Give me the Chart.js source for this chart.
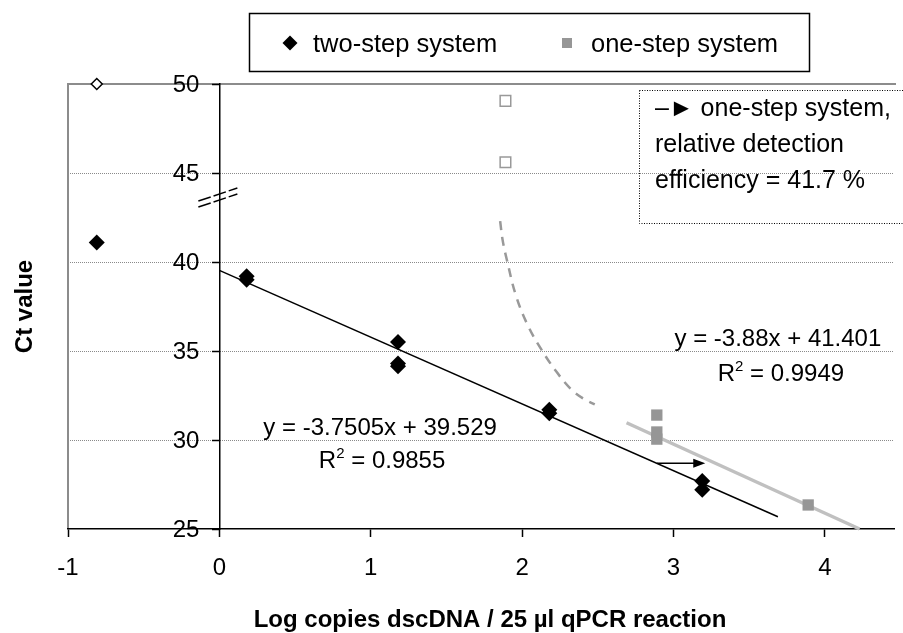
<!DOCTYPE html>
<html><head><meta charset="utf-8">
<script src="https://cdn.jsdelivr.net/npm/chart.js@4"></script>
<style>html,body{margin:0;padding:0;background:#fff}#wrap{width:903px;height:633px;position:relative}</style>
</head><body><div id="wrap"><canvas id="c" width="903" height="633"></canvas></div>
<script>
const FONT = '"Liberation Sans", Arial, Helvetica, sans-serif';

// ---- data ----
const xTickValues = [-1, 0, 1, 2, 3, 4];
const yTickValues = [25, 30, 35, 40, 45, 50];
const seriesLabels = ['two-step system', 'one-step system'];
const twoStepX = [-0.81, 0.18, 0.18, 1.18, 1.18, 1.18, 2.18, 2.18, 3.19, 3.19];
const twoStepY = [41.1, 39.2, 39.0, 35.5, 34.3, 34.15, 31.7, 31.5, 27.7, 27.2];
const twoStepOutX = [-0.81];
const twoStepOutY = [50];
const oneStepX = [2.89, 2.89, 2.89, 3.89];
const oneStepY = [31.4, 30.45, 30.05, 26.35];
const oneStepOutX = [1.89, 1.89];
const oneStepOutY = [49.05, 45.6];
const twoStepFitX = [0, 3.69];
const twoStepFitY = [39.53, 25.69];
const oneStepFitX = [2.69, 4.23];
const oneStepFitY = [30.97, 25.0];
const curveX = [1.855, 1.872, 1.9, 1.96, 2.04, 2.13, 2.23, 2.33, 2.41, 2.48];
const curveY = [42.3, 41.2, 40.1, 38.1, 36.4, 35.05, 33.8, 32.8, 32.3, 32.0];
const shiftArrowX = [2.89, 3.21];
const shiftArrowY = [28.7, 28.7];
const eqTwoStep = ['y = -3.7505x + 39.529', '0.9855'];
const eqOneStep = ['y = -3.88x + 41.401', '0.9949'];
const noteLines = ['\u2013\u25BA one-step system,', 'relative detection', 'efficiency = 41.7 %'];
const xTitle = 'Log copies dscDNA / 25 \u00B5l qPCR reaction';
const yTitle = 'Ct value';

const pts = (xs, ys) => xs.map((x, i) => ({x: x, y: ys[i]}));

function drawR2(ctx, value, cx, baseline, size) {
  const main = size + 'px ' + FONT;
  const sup = Math.round(size * 0.62) + 'px ' + FONT;
  ctx.font = main;
  const wR = ctx.measureText('R').width;
  const rest = ' = ' + value;
  const wRest = ctx.measureText(rest).width;
  ctx.font = sup;
  const w2 = ctx.measureText('2').width;
  const x0 = cx - (wR + w2 + wRest) / 2;
  ctx.textAlign = 'left';
  ctx.textBaseline = 'alphabetic';
  ctx.font = main; ctx.fillText('R', x0, baseline);
  ctx.font = sup; ctx.fillText('2', x0 + wR, baseline - size * 0.4);
  ctx.font = main; ctx.fillText(rest, x0 + wR + w2, baseline);
}

const decor = {
  id: 'decor',
  beforeDraw(chart) {
    const {ctx, chartArea: a, scales: {y}} = chart;
    ctx.save();
    ctx.strokeStyle = '#8a8a8a';
    ctx.lineWidth = 1;
    ctx.setLineDash([1, 1]);
    yTickValues.forEach(v => {
      if (v === 25 || v === 50) return;
      const py = Math.round(y.getPixelForValue(v)) + 0.5;
      ctx.beginPath(); ctx.moveTo(a.left, py); ctx.lineTo(a.right, py); ctx.stroke();
    });
    ctx.setLineDash([]);
    ctx.strokeStyle = '#8c8c8c';
    ctx.lineWidth = 2;
    ctx.beginPath();
    ctx.moveTo(a.left, a.bottom); ctx.lineTo(a.left, a.top); ctx.lineTo(a.right + 2, a.top);
    ctx.stroke();
    ctx.restore();
  },
  afterDraw(chart) {
    const {ctx, chartArea: a, scales: {x, y}} = chart;
    ctx.save();
    ctx.fillStyle = '#000';
    ctx.strokeStyle = '#000';

    // y tick labels, left of the axis that sits at x = 0
    const axisX = x.getPixelForValue(0);
    ctx.font = '24px ' + FONT;
    ctx.textAlign = 'right';
    ctx.textBaseline = 'middle';
    yTickValues.forEach(v => ctx.fillText(String(v), axisX - 20, y.getPixelForValue(v) + 1.5));

    // axis break marks
    const by = y.getPixelForValue(43.65);
    ctx.lineWidth = 1.5;
    ctx.setLineDash([13, 3]);
    [-3, 3].forEach(off => {
      ctx.beginPath();
      ctx.moveTo(axisX - 21, by + 7 + off);
      ctx.lineTo(axisX + 18, by - 6 + off);
      ctx.stroke();
    });
    ctx.setLineDash([]);

    // shift arrow
    const ax1 = x.getPixelForValue(shiftArrowX[0]), ax2 = x.getPixelForValue(shiftArrowX[1]);
    const ay = y.getPixelForValue(shiftArrowY[0]);
    ctx.lineWidth = 1.5;
    ctx.beginPath(); ctx.moveTo(ax1, ay); ctx.lineTo(ax2 - 10, ay); ctx.stroke();
    ctx.beginPath(); ctx.moveTo(ax2, ay); ctx.lineTo(ax2 - 12, ay - 4.5); ctx.lineTo(ax2 - 12, ay + 4.5); ctx.closePath(); ctx.fill();

    // regression equations
    ctx.font = '24px ' + FONT;
    ctx.textAlign = 'center';
    ctx.textBaseline = 'alphabetic';
    ctx.fillText(eqTwoStep[0], x.getPixelForValue(1.062), y.getPixelForValue(30.28));
    drawR2(ctx, eqTwoStep[1], x.getPixelForValue(1.075), y.getPixelForValue(28.43), 24);
    ctx.textAlign = 'center';
    ctx.font = '24px ' + FONT;
    ctx.fillText(eqOneStep[0], x.getPixelForValue(3.69), y.getPixelForValue(35.28));
    drawR2(ctx, eqOneStep[1], x.getPixelForValue(3.71), y.getPixelForValue(33.31), 24);

    // note box
    ctx.lineWidth = 1;
    ctx.setLineDash([1, 1.5]);
    ctx.strokeRect(639.5, 90.5, 290, 133);
    ctx.setLineDash([]);
    ctx.font = '25px ' + FONT;
    ctx.textAlign = 'left';
    noteLines.forEach((t, i) => ctx.fillText(t, 655, 116 + i * 36));

    // legend
    ctx.lineWidth = 1.5;
    ctx.strokeRect(249.5, 13.5, 560, 58);
    const ds = chart.data.datasets;
    ctx.fillStyle = ds[0].backgroundColor;
    ctx.beginPath(); ctx.moveTo(290, 35.5); ctx.lineTo(297.5, 43); ctx.lineTo(290, 50.5); ctx.lineTo(282.5, 43); ctx.closePath(); ctx.fill();
    ctx.fillStyle = ds[2].backgroundColor;
    ctx.fillRect(562, 38, 10, 10);
    ctx.fillStyle = '#000';
    ctx.font = '25.5px ' + FONT;
    ctx.fillText(ds[0].label, 313, 52);
    ctx.fillText(ds[2].label, 591, 52);

    // axis titles
    ctx.font = 'bold 24px ' + FONT;
    ctx.textAlign = 'center';
    ctx.fillText(xTitle, 490, 627);
    ctx.translate(32, (a.top + a.bottom) / 2);
    ctx.rotate(-Math.PI / 2);
    ctx.fillText(yTitle, 0, 0);
    ctx.restore();
  }
};

new Chart(document.getElementById('c'), {
  type: 'scatter',
  data: {
    datasets: [
      {label: seriesLabels[0], data: pts(twoStepX, twoStepY), pointStyle: 'rectRot', pointRadius: 8, backgroundColor: '#000', borderWidth: 0, showLine: false, clip: false},
      {label: seriesLabels[0] + ' (outlier)', data: pts(twoStepOutX, twoStepOutY), pointStyle: 'rectRot', pointRadius: 5.5, backgroundColor: '#fff', borderColor: '#000', borderWidth: 1.5, showLine: false, clip: false},
      {label: seriesLabels[1], data: pts(oneStepX, oneStepY), pointStyle: 'rect', pointRadius: 8, backgroundColor: '#969696', borderWidth: 0, showLine: false, clip: false},
      {label: seriesLabels[1] + ' (outlier)', data: pts(oneStepOutX, oneStepOutY), pointStyle: 'rect', pointRadius: 7.5, backgroundColor: '#fff', borderColor: '#999', borderWidth: 1.5, showLine: false, clip: false},
      {label: 'two-step fit', data: pts(twoStepFitX, twoStepFitY), showLine: true, pointRadius: 0, borderColor: '#000', borderWidth: 1.5, clip: false},
      {label: 'one-step fit', data: pts(oneStepFitX, oneStepFitY), showLine: true, pointRadius: 0, borderColor: '#c0c0c0', borderWidth: 3.5, clip: false},
      {label: 'one-step shift', data: pts(curveX, curveY), showLine: true, pointRadius: 0, borderColor: '#999', borderWidth: 2.5, borderDash: [9, 7], tension: 0.4, clip: false}
    ]
  },
  options: {
    responsive: false,
    devicePixelRatio: 1,
    animation: false,
    events: [],
    layout: {padding: {left: 68, top: 84, right: 0, bottom: 0}},
    plugins: {legend: {display: false}, tooltip: {enabled: false}, title: {display: false}},
    scales: {
      x: {
        type: 'linear', min: -1, max: 4.457,
        afterBuildTicks: s => { s.ticks = xTickValues.map(v => ({value: v})); },
        afterFit: s => { s.height = 104; },
        grid: {drawOnChartArea: false, tickLength: 8, tickColor: '#000', tickWidth: 1.5},
        border: {color: '#000', width: 1.5},
        ticks: {color: '#000', font: {family: FONT, size: 24}, padding: 17, maxRotation: 0, callback: v => String(v)}
      },
      y: {
        type: 'linear', min: 25, max: 50,
        position: {x: 0},
        afterBuildTicks: s => { s.ticks = yTickValues.map(v => ({value: v})); },
        grid: {drawOnChartArea: false, tickLength: 7, tickColor: '#000', tickWidth: 1.5},
        border: {color: '#000', width: 1.5},
        ticks: {display: false}
      }
    }
  },
  plugins: [decor]
});
</script>
</body></html>
